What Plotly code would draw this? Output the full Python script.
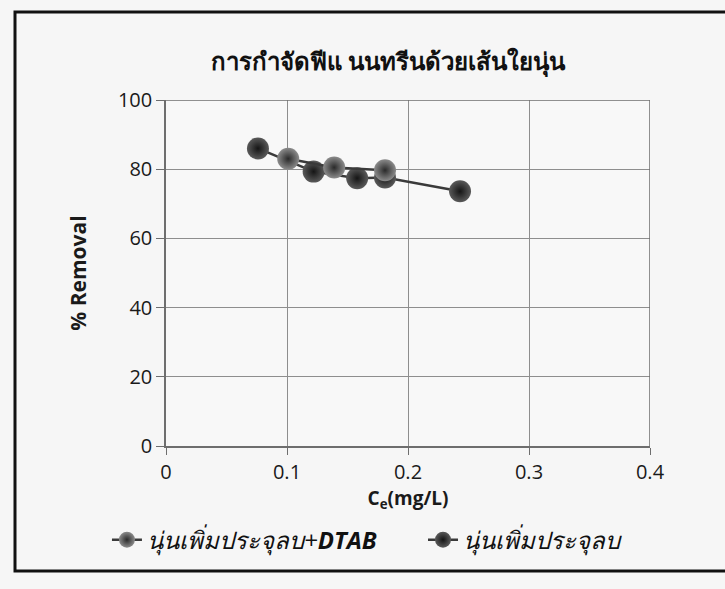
import plotly.graph_objects as go

# Equilibrium concentration (mg/L) and removal (%) for each adsorbent
ce_dtab = [0.101, 0.139, 0.181]
removal_dtab = [83.0, 80.5, 79.7]

ce_anion = [0.076, 0.122, 0.158, 0.181, 0.243]
removal_anion = [86.0, 79.3, 77.4, 77.6, 73.6]

name_dtab = "<i>นุ่นเพิ่มประจุลบ+<b>DTAB</b></i>"
name_anion = "<i>นุ่นเพิ่มประจุลบ</i>"

x_ticks = [0, 0.1, 0.2, 0.3, 0.4]
y_ticks = [0, 20, 40, 60, 80, 100]

fig = go.Figure()

fig.add_trace(go.Scatter(
    x=ce_anion, y=removal_anion, mode="lines+markers", name=name_anion,
    legend="legend2",
    line=dict(color="#3a3a3a", width=2.5),
    marker=dict(size=22, color="#5a5a5a",
                gradient=dict(type="radial", color="#151515"),
                line=dict(width=0)),
))
fig.add_trace(go.Scatter(
    x=ce_dtab, y=removal_dtab, mode="lines+markers", name=name_dtab,
    legend="legend",
    line=dict(color="#3a3a3a", width=2.5),
    marker=dict(size=22, color="#8c8c8c",
                gradient=dict(type="radial", color="#2a2a2a"),
                line=dict(width=0)),
))

legend_font = dict(size=24, color="#111111")

fig.update_layout(
    width=725, height=589,
    margin=dict(l=166, r=75, t=100, b=143),
    paper_bgcolor="#f6f6f6", plot_bgcolor="#f8f8f8",
    font=dict(family="Open Sans, Noto Sans, DejaVu Sans", color="#1a1a1a"),
    title=dict(text="<b>การกำจัดฟีแ นนทรีนด้วยเส้นใยนุ่น</b>",
               x=0.535, xanchor="center", y=0.895, yanchor="middle",
               font=dict(size=24, color="#111111")),
    xaxis=dict(range=[0, 0.4], tickvals=x_ticks, ticktext=["0", "0.1", "0.2", "0.3", "0.4"],
               showgrid=True, gridcolor="#8e8e8e", gridwidth=1,
               showline=True, linecolor="#6e6e6e", linewidth=1.5,
               ticks="outside", ticklen=7, tickcolor="#6e6e6e",
               zeroline=False, mirror=False,
               tickfont=dict(size=20),
               title=dict(text="<b>C<sub>e</sub>(mg/L)</b>", font=dict(size=19), standoff=4)),
    yaxis=dict(range=[0, 100], tickvals=y_ticks,
               showgrid=True, gridcolor="#8e8e8e", gridwidth=1,
               showline=True, linecolor="#6e6e6e", linewidth=1.5,
               ticks="outside", ticklen=8, tickcolor="#6e6e6e",
               zeroline=False,
               tickfont=dict(size=20),
               title=dict(text="<b>% Removal</b>", font=dict(size=21), standoff=26)),
    legend=dict(orientation="h", x=-0.122, xanchor="left", y=-0.272, yanchor="middle",
                font=legend_font, bgcolor="rgba(0,0,0,0)"),
    legend2=dict(orientation="h", x=0.531, xanchor="left", y=-0.272, yanchor="middle",
                 font=legend_font, bgcolor="rgba(0,0,0,0)"),
    showlegend=True,
)

# Top and right borders of the plot area
fig.add_shape(type="line", xref="x", yref="paper", x0=0.4, x1=0.4, y0=0, y1=1,
              line=dict(color="#6e6e6e", width=1.5))
fig.add_shape(type="line", xref="paper", yref="y", x0=0, x1=1, y0=100, y1=100,
              line=dict(color="#6e6e6e", width=1.5))

# Outer frame around the chart
fig.add_shape(type="rect", xref="paper", yref="paper",
              x0=-151 / 484, x1=562 / 484, y0=(446 - 571) / 346, y1=(446 - 12) / 346,
              line=dict(color="#111111", width=3), fillcolor="rgba(0,0,0,0)", layer="below")

fig.write_html("out.html")
